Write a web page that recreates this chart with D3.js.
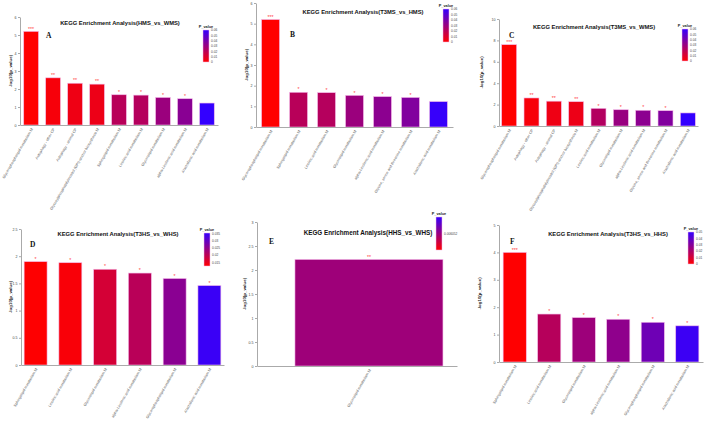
<!DOCTYPE html>
<html>
<head>
<meta charset="utf-8">
<script src="https://cdn.jsdelivr.net/npm/d3@7"></script>
<style>
  body { margin: 0; background: #fff; }
  svg { display: block; font-family: "Liberation Sans", Arial, sans-serif; }
</style>
</head>
<body>
<svg id="fig"></svg>
<script>
// ---- data ----
const catsA = ['Glycerophospholipid metabolism M', 'Autophagy - other CP', 'Autophagy - animal CP',
  'Glycosylphosphatidylinositol (GPI)-anchor biosynthesis M', 'Sphingolipid metabolism M',
  'Linoleic acid metabolism M', 'Glycerolipid metabolism M', 'alpha-Linolenic acid metabolism M',
  'Arachidonic acid metabolism M'];
const valsA = [5.2, 2.62, 2.32, 2.27, 1.68, 1.66, 1.53, 1.46, 1.22];
const yTicksA = [0, 1, 2, 3, 4, 5, 6];
const legendTicksA = [0, 0.01, 0.02, 0.03, 0.04, 0.05, 0.06];

const catsB = ['Glycerophospholipid metabolism M', 'Sphingolipid metabolism M', 'Linoleic acid metabolism M',
  'Glycerolipid metabolism M', 'alpha-Linolenic acid metabolism M',
  'Glycine, serine and threonine metabolism M', 'Arachidonic acid metabolism M'];
const valsB = [5.2, 1.68, 1.66, 1.53, 1.47, 1.43, 1.23];
const yTicksB = [0, 1, 2, 3, 4, 5, 6];
const legendTicksB = [0, 0.01, 0.02, 0.03, 0.04, 0.05, 0.06];

const catsC = ['Glycerophospholipid metabolism M', 'Autophagy - other CP', 'Autophagy - animal CP',
  'Glycosylphosphatidylinositol (GPI)-anchor biosynthesis M', 'Linoleic acid metabolism M',
  'Glycerolipid metabolism M', 'alpha-Linolenic acid metabolism M',
  'Glycine, serine and threonine metabolism M', 'Arachidonic acid metabolism M'];
const valsC = [7.6, 2.62, 2.32, 2.27, 1.65, 1.52, 1.47, 1.43, 1.22];
const yTicksC = [0, 2, 4, 6, 8, 10];
const legendTicksC = [0, 0.01, 0.02, 0.03, 0.04, 0.05, 0.06];

const catsD = ['Sphingolipid metabolism M', 'Linoleic acid metabolism M', 'Glycerolipid metabolism M',
  'alpha-Linolenic acid metabolism M', 'Glycerophospholipid metabolism M', 'Arachidonic acid metabolism M'];
const valsD = [1.90, 1.88, 1.76, 1.69, 1.59, 1.46];
const yTicksD = [0, 0.5, 1, 1.5, 2, 2.5];
const legendTicksD = [0.015, 0.02, 0.025, 0.03, 0.035];

const catsE = ['Glycerolipid metabolism M'];
const valsE = [2.22];
const yTicksE = [0, 0.5, 1, 1.5, 2, 2.5, 3];
const legendTicksE = [0.006052];

const catsF = ['Sphingolipid metabolism M', 'Linoleic acid metabolism M', 'Glycerolipid metabolism M',
  'alpha-Linolenic acid metabolism M', 'Glycerophospholipid metabolism M', 'Arachidonic acid metabolism M'];
const valsF = [4.0, 1.75, 1.62, 1.56, 1.45, 1.32];
const yTicksF = [0, 1, 2, 3, 4, 5];
const legendTicksF = [0, 0.01, 0.02, 0.03, 0.04, 0.05];

const svg = d3.select('#fig').attr('width', 709).attr('height', 422);
svg.append('rect').attr('width', 709).attr('height', 422).attr('fill', '#fff');

function stars(p) {
  if (p < 0.001) return '***';
  if (p < 0.01) return '**';
  if (p < 0.05) return '*';
  return '';
}

class EnrichBar {
  constructor(config, data) {
    this.config = config;
    this.data = data;
    this.init();
  }

  init() {
    let self = this;
    self.g = svg.append('g');
  }

  update() {
    let self = this;
    const c = self.config;
    const data = self.data.cats.map((name, i) => ({ name: name, value: self.data.vals[i], p: Math.pow(10, -self.data.vals[i]) }));

    const x = d3.scaleBand()
      .domain(data.map(d => d.name))
      .range([c.x0, c.x1])
      .paddingInner(c.pi)
      .paddingOuter(c.po)
      .align(c.align);
    const yTicks = self.data.yTicks;
    const y = d3.scaleLinear()
      .domain([0, yTicks[yTicks.length - 1]])
      .range([c.yBase, c.yTop]);
    const color = d3.scaleLinear()
      .domain(c.legendDomain)
      .range(['#ff0000', '#3300ff'])
      .interpolate(d3.interpolateRgb)
      .clamp(true);

    // y axis
    const ya = self.g.append('g')
      .attr('transform', `translate(${c.x0},0)`)
      .call(d3.axisLeft(y).tickValues(yTicks).tickSize(2).tickSizeOuter(0).tickFormat(d3.format('~g')));
    ya.select('.domain').attr('stroke', '#aaa');
    ya.selectAll('.tick line').attr('stroke', '#aaa');
    ya.selectAll('.tick text').attr('font-size', 3.6).attr('fill', '#444').attr('x', -3.5);

    // bars
    self.g.selectAll('rect.bar')
      .data(data)
      .enter()
      .append('rect')
      .attr('class', 'bar')
      .attr('x', d => x(d.name))
      .attr('width', x.bandwidth())
      .attr('y', d => y(d.value))
      .attr('height', d => y(0) - y(d.value))
      .attr('fill', d => color(d.p))
      .attr('stroke', '#f3b8e8')
      .attr('stroke-width', 0.6);

    self.g.selectAll('text.star')
      .data(data)
      .enter()
      .append('text')
      .attr('class', 'star')
      .attr('x', d => x(d.name) + x.bandwidth() / 2)
      .attr('y', d => y(d.value) - 0.8)
      .attr('text-anchor', 'middle')
      .attr('font-size', 5.2)
      .attr('fill', '#ff3b3b')
      .text(d => stars(d.p));

    // x axis
    const xa = self.g.append('g')
      .attr('transform', `translate(0,${c.yBase})`)
      .call(d3.axisBottom(x).tickSize(0).tickSizeOuter(0));
    xa.select('.domain').attr('stroke', '#aaa').attr('stroke-width', 1);
    xa.selectAll('.tick text')
      .attr('font-size', 3.7)
      .attr('fill', '#555')
      .attr('text-anchor', 'end')
      .attr('dy', 0)
      .attr('y', 0)
      .attr('transform', 'translate(2,4) rotate(-60)');

    // y label
    self.g.append('text')
      .attr('transform', `translate(${c.ylabX},${(c.yBase + c.yTop) / 2}) rotate(-90)`)
      .attr('text-anchor', 'middle')
      .attr('font-size', 4.4)
      .attr('font-weight', 'bold')
      .attr('fill', '#222')
      .text('-log10(p_value)');

    // title and panel letter
    self.g.append('text')
      .attr('x', c.titleX).attr('y', c.titleY)
      .attr('text-anchor', 'middle')
      .attr('font-size', c.titleSize)
      .attr('font-weight', 'bold')
      .attr('fill', '#111')
      .text(c.title);
    self.g.append('text')
      .attr('x', c.letterX).attr('y', c.letterY)
      .attr('font-family', '"Liberation Serif", "Times New Roman", serif')
      .attr('font-weight', 'bold')
      .attr('font-size', 7.5)
      .attr('fill', '#111')
      .text(c.letter);

    // colour legend
    const L = c.legend;
    const gradId = 'grad' + c.letter;
    const grad = svg.append('defs').append('linearGradient')
      .attr('id', gradId)
      .attr('x1', 0).attr('y1', 1).attr('x2', 0).attr('y2', 0);
    grad.append('stop').attr('offset', '0%').attr('stop-color', color(c.legendDomain[0]));
    grad.append('stop').attr('offset', '50%').attr('stop-color', color((c.legendDomain[0] + c.legendDomain[1]) / 2));
    grad.append('stop').attr('offset', '100%').attr('stop-color', color(c.legendDomain[1]));
    self.g.append('text')
      .attr('x', L.x + 3).attr('y', L.y0 - 2.5)
      .attr('text-anchor', 'middle')
      .attr('font-size', 3.8)
      .attr('font-weight', 'bold')
      .attr('fill', '#222')
      .text('P_value');
    self.g.append('rect')
      .attr('x', L.x).attr('y', L.y0)
      .attr('width', 6).attr('height', L.y1 - L.y0)
      .attr('fill', `url(#${gradId})`)
      .attr('stroke', '#f3b8e8')
      .attr('stroke-width', 0.5);
    const ly = d3.scaleLinear().domain(c.legendDomain).range([L.y1, L.y0]);
    self.g.selectAll('text.leg')
      .data(self.data.legendTicks)
      .enter()
      .append('text')
      .attr('class', 'leg')
      .attr('x', L.x + 8)
      .attr('y', d => ly(d) + 1.2)
      .attr('font-size', 3.2)
      .attr('fill', '#444')
      .text(d => d3.format('~g')(d));
  }
}

const panels = [
  { cfg: { letter: 'A', title: 'KEGG Enrichment Analysis(HMS_vs_WMS)', x0: 20, x1: 218, yTop: 17, yBase: 125,
      pi: 0.33, po: 0.17, align: 0.5, titleX: 120, titleY: 25, titleSize: 5.8, letterX: 46, letterY: 38, ylabX: 12,
      legendDomain: [0, 0.06], legend: { x: 203, y0: 30, y1: 62 } },
    data: { cats: catsA, vals: valsA, yTicks: yTicksA, legendTicks: legendTicksA } },
  { cfg: { letter: 'B', title: 'KEGG Enrichment Analysis(T3MS_vs_HMS)', x0: 256, x1: 453, yTop: 3, yBase: 127,
      pi: 0.36, po: 0.2, align: 0.5, titleX: 363, titleY: 14, titleSize: 5.8, letterX: 290, letterY: 37, ylabX: 248,
      legendDomain: [0, 0.06], legend: { x: 443, y0: 9, y1: 42 } },
    data: { cats: catsB, vals: valsB, yTicks: yTicksB, legendTicks: legendTicksB } },
  { cfg: { letter: 'C', title: 'KEGG Enrichment Analysis(T3MS_vs_WMS)', x0: 499, x1: 698, yTop: 19, yBase: 126,
      pi: 0.33, po: 0.12, align: 0.5, titleX: 594, titleY: 28.5, titleSize: 5.8, letterX: 509, letterY: 38, ylabX: 483,
      legendDomain: [0, 0.06], legend: { x: 682, y0: 29, y1: 61 } },
    data: { cats: catsC, vals: valsC, yTicks: yTicksC, legendTicks: legendTicksC } },
  { cfg: { letter: 'D', title: 'KEGG Enrichment Analysis(T3HS_vs_WHS)', x0: 21, x1: 224, yTop: 229, yBase: 365,
      pi: 0.34, po: 0.09, align: 0.5, titleX: 118, titleY: 236, titleSize: 5.8, letterX: 30, letterY: 247, ylabX: 12,
      legendDomain: [0.0125, 0.0355], legend: { x: 204, y0: 233, y1: 266 } },
    data: { cats: catsD, vals: valsD, yTicks: yTicksD, legendTicks: legendTicksD } },
  { cfg: { letter: 'E', title: 'KEGG Enrichment Analysis(HHS_vs_WHS)', x0: 257, x1: 457, yTop: 222, yBase: 366,
      pi: 0.26, po: 0.13, align: 0.73, titleX: 368, titleY: 235, titleSize: 6.3, letterX: 269, letterY: 244, ylabX: 246,
      legendDomain: [0.005552, 0.006552], legend: { x: 436, y0: 217, y1: 250 } },
    data: { cats: catsE, vals: valsE, yTicks: yTicksE, legendTicks: legendTicksE } },
  { cfg: { letter: 'F', title: 'KEGG Enrichment Analysis(T3HS_vs_HHS)', x0: 499, x1: 703, yTop: 225, yBase: 362,
      pi: 0.33, po: 0.12, align: 0.5, titleX: 608, titleY: 236, titleSize: 5.8, letterX: 510, letterY: 244, ylabX: 481,
      legendDomain: [0, 0.05], legend: { x: 688, y0: 232, y1: 264 } },
    data: { cats: catsF, vals: valsF, yTicks: yTicksF, legendTicks: legendTicksF } }
];

panels.forEach(p => {
  const chart = new EnrichBar(p.cfg, p.data);
  chart.update();
});
</script>
</body>
</html>
